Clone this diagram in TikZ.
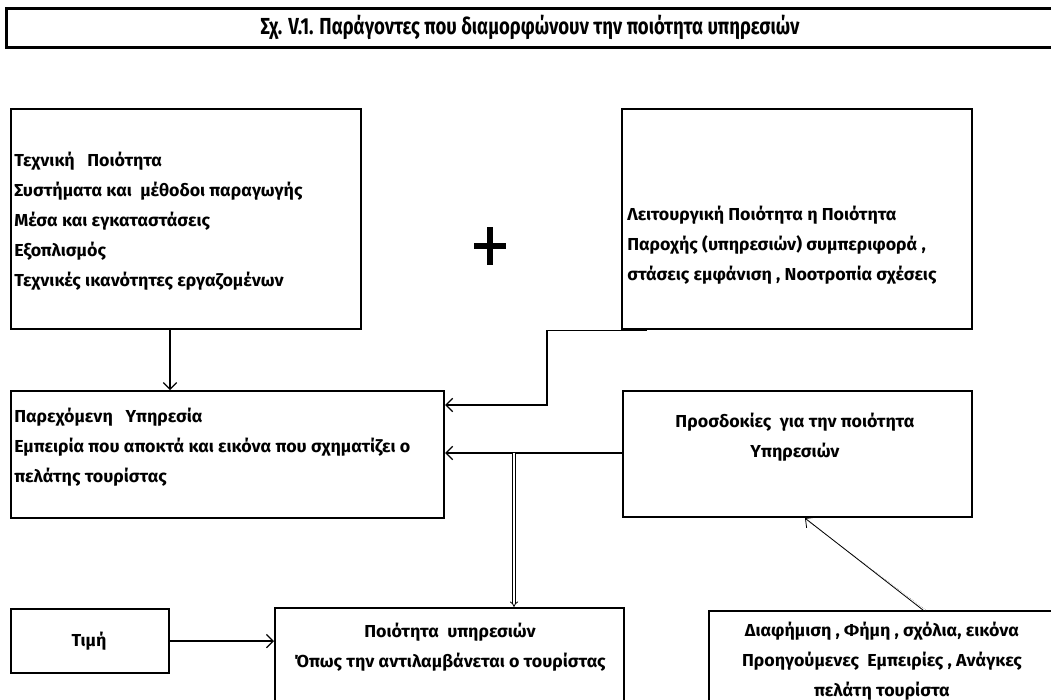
\documentclass[tikz,border=0pt]{standalone}
\usepackage{fontspec}
\setmainfont{Fira Sans}
\newfontfamily\bodyfont{Fira Sans}[FakeStretch=1.03]
\newfontfamily\titlefont{Fira Sans}[FakeStretch=0.8]
\usetikzlibrary{arrows.meta}

\begin{document}
\begin{tikzpicture}[x=0.75pt,y=-0.75pt,
	box/.style={draw, line width=1.6pt, inner sep=0pt, anchor=north west},
	txt/.style={font=\bodyfont\bfseries\fontsize{13}{22.5}\selectfont, inner sep=0pt},
	conn/.style={-{Straight Barb[length=5pt,width=10pt]}, line width=0.9pt}]

	\useasboundingbox (0,0) rectangle (1051,700);
	\clip (0,0) rectangle (1051,700);

	% title
	\node[box, line width=2.2pt, minimum width=791.25pt, minimum height=29.25pt] (title) at (5,7) {};
	\node[txt, font=\titlefont\bfseries\fontsize{17.4}{22}\selectfont] (titletxt) at (530,27) {Σχ. V.1. Παράγοντες που διαμορφώνουν την ποιότητα υπηρεσιών};

	% boxes
	\node[box, minimum width=262.5pt, minimum height=165pt] (tech) at (10,108) {};
	\node[box, minimum width=262.5pt, minimum height=165pt] (func) at (621,108) {};
	\node[box, minimum width=324.75pt, minimum height=95.25pt] (given) at (10,390) {};
	\node[box, minimum width=261.75pt, minimum height=94.5pt] (expect) at (622,390) {};
	\node[box, minimum width=118.5pt, minimum height=48pt] (price) at (10,608) {};
	\node[box, minimum width=261.75pt, minimum height=90pt] (perceived) at (274,607) {};
	\node[box, minimum width=270pt, minimum height=90pt] (adv) at (708,610) {};

	% texts
	\node[txt, anchor=west, align=left] (techtxt) at (14,221) {Τεχνική\ \ \ Ποιότητα\\Συστήματα και\ \ μέθοδοι παραγωγής\\Μέσα και εγκαταστάσεις\\Εξοπλισμός\\Τεχνικές ικανότητες εργαζομένων};
	\node[txt, anchor=west, align=left] (functxt) at (627,245) {Λειτουργική Ποιότητα η Ποιότητα\\Παροχής (υπηρεσιών) συμπεριφορά ,\\στάσεις εμφάνιση , Νοοτροπία σχέσεις};
	\node[txt, anchor=west, align=left] (giventxt) at (14,447) {Παρεχόμενη\ \ \ Υπηρεσία\\Εμπειρία που αποκτά και εικόνα που σχηματίζει ο\\πελάτης τουρίστας};
	\node[txt, align=center] (expecttxt) at (795,437) {Προσδοκίες\ \ για την ποιότητα\\Υπηρεσιών};
	\node[txt] (pricetxt) at (89,641) {Τιμή};
	\node[txt, align=center] (perceivedtxt) at (450,647) {Ποιότητα\ \ υπηρεσιών\\Όπως την αντιλαμβάνεται ο τουρίστας};
	\node[txt, align=center] (advtxt) at (882,661) {Διαφήμιση , Φήμη , σχόλια, εικόνα\\Προηγούμενες\ \ Εμπειρίες , Ανάγκες\\πελάτη τουρίστα};

	% plus
	\draw[line width=3.8pt] (474,246) -- (506,246) (490,227) -- (490,265);

	% connectors
	\coordinate (split) at (514,453);
	\draw[conn] (tech.south -| 170,0) -- (given.north -| 170,0);
	\draw[conn] ([xshift=19.5pt]func.south west) -| (547,405) -- (given.east |- 0,405);
	\draw[conn] (expect.west |- split) -- (given.east |- split);
	\draw[double, double distance=1.5pt, line width=0.6pt, -{Implies}] (split) -- (perceived.north -| split);
	\draw[conn] (price.east) -- (perceived.west |- price.east);
	\draw[densely dotted, gray] ([xshift=2pt]adv.north -| 923,0) -- ([xshift=2pt,yshift=-2pt]expect.south -| 805,0);
	\draw[conn, line width=0.6pt] (adv.north -| 923,0) -- (expect.south -| 805,0);

\end{tikzpicture}
\end{document}
